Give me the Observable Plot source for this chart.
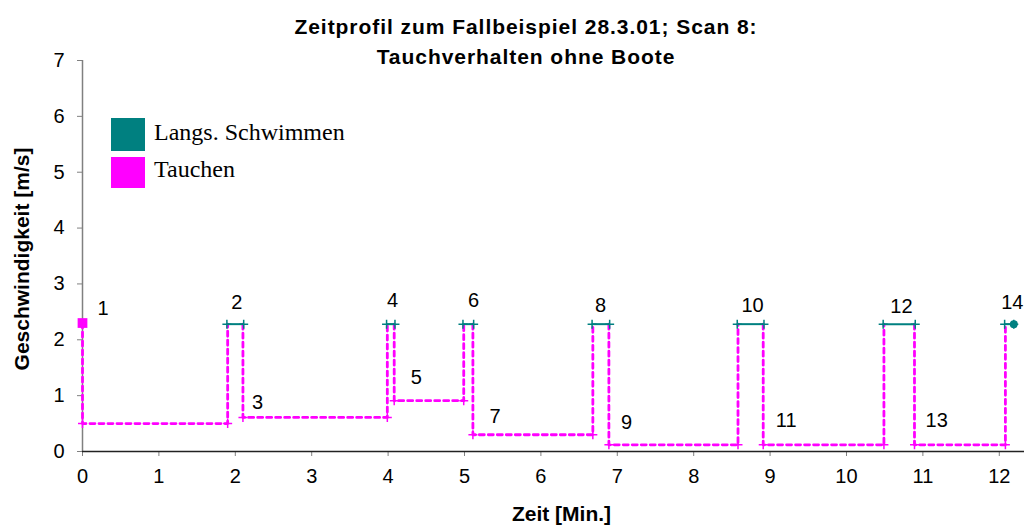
<!DOCTYPE html>
<html>
<head>
<meta charset="utf-8">
<script src="https://cdn.jsdelivr.net/npm/d3@7"></script>
<script src="https://cdn.jsdelivr.net/npm/@observablehq/plot@0.6"></script>
<style>
  html, body { margin: 0; padding: 0; background: #fff; }
  #wrap { position: relative; width: 1024px; height: 531px; overflow: hidden; }
  .title { position: absolute; left: 0; width: 1052px; text-align: center; font-family: "Liberation Sans", Arial, sans-serif; font-weight: bold; font-size: 21px; line-height: 24px; letter-spacing: 0.95px; color: #000; }
  .leg { position: absolute; font-family: "Liberation Serif", "Times New Roman", serif; font-size: 24px; color: #000; }
  .sw { position: absolute; }
</style>
</head>
<body>
<div id="wrap">
  <div class="title" style="top: 15px;">Zeitprofil zum Fallbeispiel 28.3.01; Scan 8:</div>
  <div class="title" style="top: 45px;">Tauchverhalten ohne Boote</div>
  <div class="sw" style="left:111px; top:118px; width:34px; height:33px; background:#008080;"></div>
  <div class="sw" style="left:111px; top:157px; width:34px; height:31px; background:#ff00ff;"></div>
  <div class="leg" style="left:154px; top:119px;">Langs. Schwimmen</div>
  <div class="leg" style="left:154px; top:156px;">Tauchen</div>
  <div id="chart" style="position:absolute; left:0; top:0;"></div>
</div>
<script>
// Swimming (Langs. Schwimmen) phases: start/end time [min], speed [m/s]
const swimStart = [1.89, 3.98, 4.98, 6.67, 8.57, 10.48, 12.07];
const swimEnd   = [2.11, 4.09, 5.12, 6.90, 8.92, 10.90, 12.19];
const swimSpeed = 2.28;
// Diving (Tauchen) phases
const diveStart = [0.00, 2.10, 4.08, 5.11, 6.89, 8.91, 10.89];
const diveEnd   = [1.90, 3.99, 4.99, 6.68, 8.58, 10.49, 12.08];
const diveLevel = [0.50, 0.61, 0.91, 0.30, 0.12, 0.12, 0.12];
const diveTop   = [2.30, 2.28, 2.28, 2.28, 2.28, 2.28, 2.28];
const startPoint = {x: 0, y: 2.30};
const endPoint = {x: 12.19, y: 2.28};
// phase labels
const labelText = ["1","2","3","4","5","6","7","8","9","10","11","12","13","14"];
const labelX = [0.27, 2.02, 2.29, 4.06, 4.37, 5.12, 5.40, 6.78, 7.12, 8.77, 9.21, 10.72, 11.18, 12.17];
const labelY = [2.55, 2.66, 0.87, 2.71, 1.32, 2.71, 0.62, 2.62, 0.51, 2.62, 0.55, 2.59, 0.55, 2.66];
const xTicks = [0,1,2,3,4,5,6,7,8,9,10,11,12];
const yTicks = [0,1,2,3,4,5,6,7];

const swims = swimStart.map((s, i) => ({x1: s, x2: swimEnd[i], y: swimSpeed}));
const divePts = [];
diveStart.forEach((s, i) => {
  divePts.push({id: i, x: s, y: diveTop[i]});
  divePts.push({id: i, x: s, y: diveLevel[i]});
  divePts.push({id: i, x: diveEnd[i], y: diveLevel[i]});
  divePts.push({id: i, x: diveEnd[i], y: swimSpeed});
});
const diveCorners = [];
diveStart.forEach((s, i) => {
  diveCorners.push({x: s, y: diveLevel[i]});
  diveCorners.push({x: diveEnd[i], y: diveLevel[i]});
});
const swimEnds = [];
swims.forEach(d => { swimEnds.push({x: d.x1, y: d.y}); swimEnds.push({x: d.x2, y: d.y}); });
const labels = labelText.map((t, i) => ({t, x: labelX[i], y: labelY[i]}));

const font = "Liberation Sans, Arial, sans-serif";
const chart = Plot.plot({
  width: 1024,
  height: 531,
  marginLeft: 82,
  marginRight: 0,
  marginTop: 60,
  marginBottom: 80,
  style: {fontFamily: font, background: "transparent", overflow: "visible"},
  x: {domain: [0, 12.33]},
  y: {domain: [0, 7]},
  marks: [
    Plot.axisX({ticks: xTicks, tickSize: 5, tickPadding: 12, fontSize: 20, stroke: "#808080", color: "#000", label: null, tickFormat: d => String(d)}),
    Plot.axisY({ticks: yTicks, tickSize: 5, tickPadding: 13, fontSize: 20, stroke: "#808080", color: "#000", label: null, tickFormat: d => String(d)}),
    Plot.ruleX([0], {stroke: "#808080", strokeWidth: 1.5}),
    Plot.ruleY([0], {stroke: "#222", strokeWidth: 1.5}),
    Plot.line(divePts, {x: "x", y: "y", z: "id", stroke: "#ff00ff", strokeWidth: 2.8, strokeDasharray: "5,4", curve: "linear"}),
    Plot.dot(diveCorners, {x: "x", y: "y", symbol: "plus", r: 3, stroke: "#ff00ff", strokeWidth: 1.5}),
    Plot.ruleY(swims, {x1: "x1", x2: "x2", y: "y", stroke: "#008080", strokeWidth: 2}),
    Plot.dot(swimEnds, {x: "x", y: "y", symbol: "plus", r: 3, stroke: "#008080", strokeWidth: 1.5}),
    Plot.dot([startPoint], {x: "x", y: "y", symbol: "square", r: 5.5, fill: "#ff00ff"}),
    Plot.dot([endPoint], {x: "x", y: "y", r: 4, fill: "#008080"}),
    Plot.text(labels, {x: "x", y: "y", text: "t", fontSize: 20, fill: "#000"}),
    Plot.text(["Zeit [Min.]"], {frameAnchor: "bottom", dy: 69, dx: 8, fontSize: 21, fontWeight: "bold", fill: "#000", style: "letter-spacing: 0.5px"}),
    Plot.text(["Geschwindigkeit [m/s]"], {frameAnchor: "left", dx: -60, dy: 3, rotate: -90, textAnchor: "middle", fontSize: 21, fontWeight: "bold", fill: "#000"})
  ]
});
document.getElementById("chart").appendChild(chart);
</script>
</body>
</html>
